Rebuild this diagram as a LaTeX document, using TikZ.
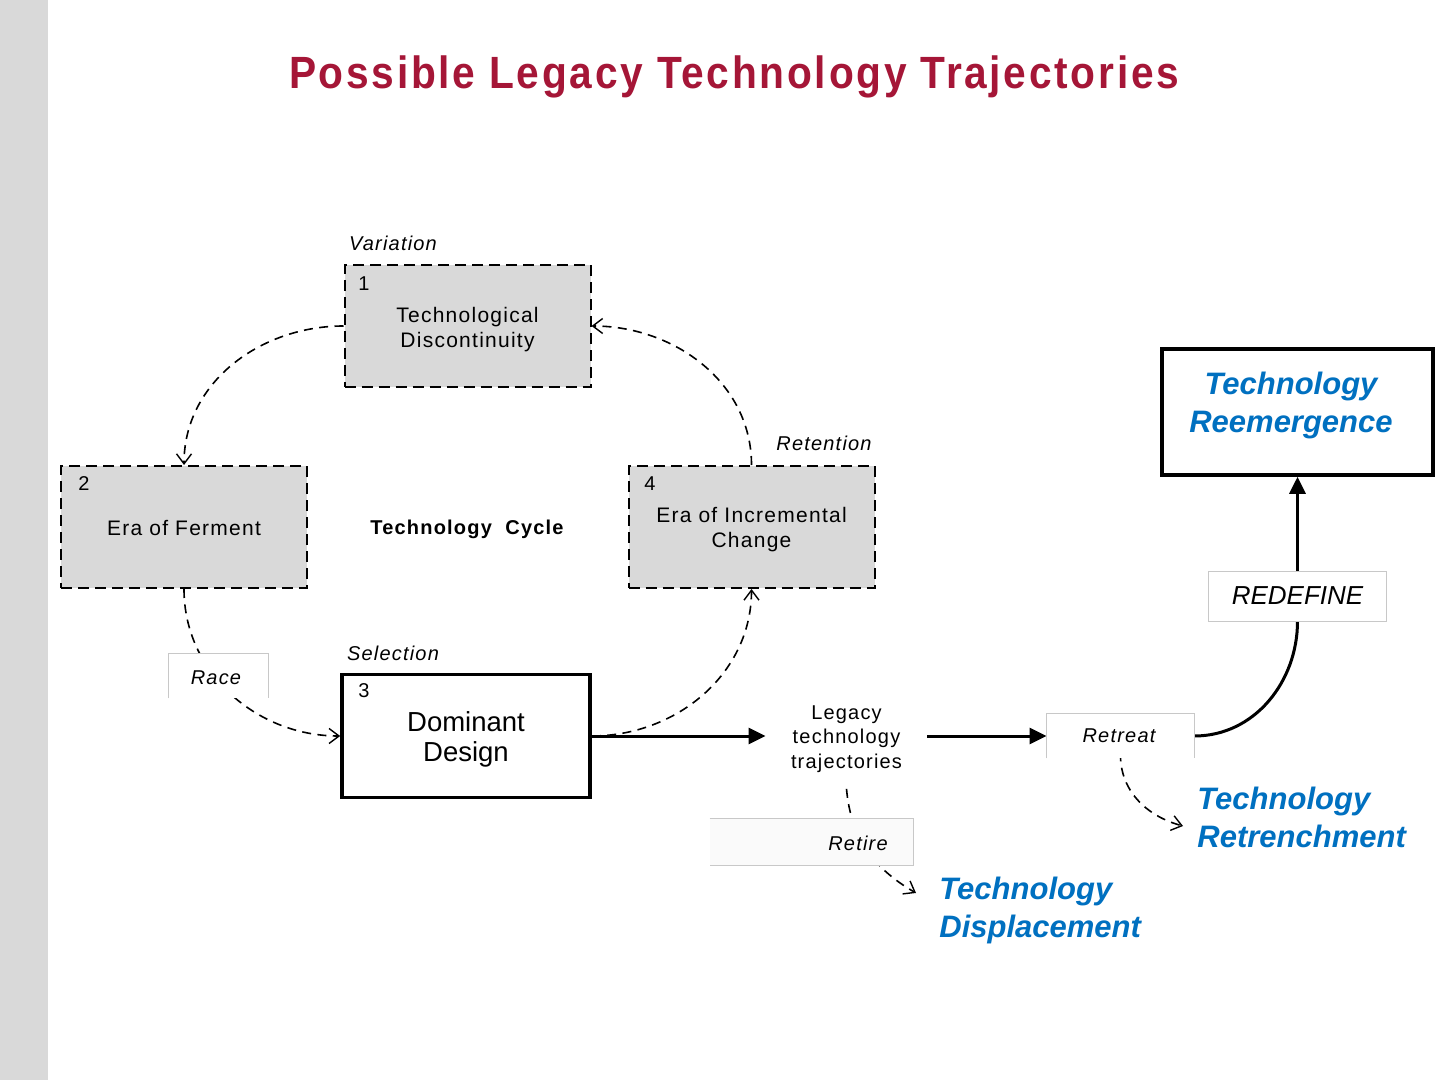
\documentclass[tikz,border=0pt]{standalone}
\usepackage{fontspec}
\setmainfont{Liberation Sans}
\newfontfamily\spf[LetterSpace=6]{Liberation Sans}
\newfontfamily\titlef[FakeStretch=0.9,LetterSpace=6]{Liberation Sans}
\usetikzlibrary{arrows.meta}
\definecolor{titlered}{RGB}{165,22,55}
\definecolor{boxgray}{RGB}{217,217,217}
\definecolor{bluetxt}{RGB}{0,112,192}
\definecolor{lblgray}{RGB}{200,200,200}
\newcommand{\twolines}[3][-2pt]{\raisebox{#1}[\height][\depth]{\begin{tabular}{@{}c@{}}#2\\#3\end{tabular}}}
\begin{document}
\begin{tikzpicture}[x=0.5pt,y=-0.5pt,
  stagebox/.style={draw=black,line width=1pt,dash pattern=on 5.5pt off 3pt,fill=boxgray,
    minimum width=123pt,minimum height=61pt,inner sep=0pt,align=center,
    font=\spf\fontsize{10.5}{12.5}\selectfont},
  domibox/.style={draw=black,line width=1.8pt,fill=white,minimum width=124pt,minimum height=61.5pt,
    inner sep=0pt,align=center,font=\fontsize{13.75}{15}\selectfont},
  numlbl/.style={font=\fontsize{10}{12}\selectfont,inner sep=0pt},
  phase/.style={font=\spf\itshape\fontsize{10}{12}\selectfont,inner sep=0pt},
  lblbox/.style={fill=white,inner sep=0pt},
  lbledge/.style={draw=lblgray,line width=0.5pt},
  lbltext/.style={font=\spf\itshape\fontsize{10}{12}\selectfont,inner sep=0pt},
  bluetext/.style={font=\bfseries\itshape\fontsize{15.5}{19}\selectfont,text=bluetxt,align=left,inner sep=0pt},
  cycleflow/.style={line width=0.8pt,dash pattern=on 4.5pt off 3.2pt,-{Straight Barb[length=5pt,width=7.5pt,line width=0.7pt]}},
  mainflow/.style={line width=1.5pt,-{Triangle[length=8.5pt,width=8pt]}},
]
% canvas
\useasboundingbox (0,0) rectangle (1440,1080);
\fill[white] (0,0) rectangle (1440,1080);
\fill[boxgray] (0,0) rectangle (48,1080);

% title
\node[anchor=base,text=titlered,font=\titlef\bfseries\fontsize{22.6}{26}\selectfont,inner sep=0pt] (title) at (734,89) {Possible Legacy Technology Trajectories};

% stage boxes
\node[stagebox] (b1) at (467.5,326) {\twolines{Technological}{Discontinuity}};
\node[stagebox] (b2) at (184,527) {\raisebox{-0.5pt}[\height][\depth]{Era of Ferment}};
\node[stagebox] (b4) at (751.5,527) {\twolines[-1.75pt]{Era of Incremental}{Change}};
\node[domibox] (b3) at (466,736) {\twolines[-2pt]{Dominant}{Design}};

\node[numlbl] (n1) at (364,284) {1};
\node[numlbl] (n2) at (84,484) {2};
\node[numlbl] (n3) at (364,691) {3};
\node[numlbl] (n4) at (650,484) {4};

\node[phase] (pv) at (393,243) {Variation};
\node[phase] (pr) at (824,443) {Retention};
\node[phase] (ps) at (393,653) {Selection};
\node[font=\spf\bfseries\fontsize{10}{12}\selectfont,inner sep=0pt] (cyc) at (467,529) {Technology\ \ Cycle};

% legacy node
\node[font=\spf\fontsize{10}{12.25}\selectfont,align=center,inner xsep=12.5pt,inner ysep=6pt] (leg) at (846.5,739) {Legacy\\technology\\trajectories};

% result boxes / texts
\node[draw=black,line width=1.8pt,fill=white,minimum width=135.5pt,minimum height=63pt] (reem) at (1297.5,412) {};
\node[bluetext,align=center] (reemt) at (1291,405) {Technology\\Reemergence};
\node[bluetext,anchor=west] (retr) at (1197,817) {Technology\\Retrenchment};
\node[bluetext,anchor=west] (disp) at (939,910) {Technology\\Displacement};
\coordinate (dispin) at (916,893);
\coordinate (retrin) at (1183,826);

% connectors in the cycle
\draw[cycleflow] (b1.west) to[out=180,in=90] (b2.north);
\draw[cycleflow] (b2.south) to[out=-90,in=180] (b3.west);
\draw[cycleflow] (b3.east) to[out=0,in=-90] (b4.south);
\draw[cycleflow] (b4.north) to[out=90,in=0] (b1.east);

% label boxes positions
\node[lblbox,minimum width=49.5pt,minimum height=22pt] (race) at (218.5,676) {};
\node[lblbox,fill=white!98!black,minimum width=101.5pt,minimum height=23pt] (retire) at (811.5,842) {};
\node[lblbox,minimum width=73.5pt,minimum height=22pt] (retreat) at (1120.5,736) {};
\node[lblbox,minimum width=88.5pt,minimum height=24.5pt] (redef) at (1297.5,596.5) {};

% trajectories
\draw[mainflow] (b3.east) -- (b3.east -| leg.west);
\draw[mainflow] (retreat.west -| leg.east) -- (retreat.west);
\draw[line width=1.5pt] (retreat.east) to[out=0,in=-90] (redef.south);
\draw[mainflow] (redef.north) -- (reem.south);
\draw[cycleflow] ([yshift=-2]leg.south) to[out=-85,in=150] (dispin);
\draw[cycleflow] ([yshift=3]retreat.south) to[out=-92,in=165] (retrin);

% label boxes drawn on top
\fill[white] (race.south west) rectangle (race.north east);
\draw[lbledge] (race.south west) |- (race.north east) -- (race.south east);
\fill[white!98!black] (retire.south west) rectangle (retire.north east);
\draw[lbledge] (retire.north west) -- (retire.north east) -- (retire.south east) -- (retire.south west);
\fill[white] (retreat.south west) rectangle (retreat.north east);
\draw[lbledge] (retreat.south west) |- (retreat.north east) -- (retreat.south east);
\fill[white] (redef.south west) rectangle (redef.north east);
\draw[lbledge] (redef.south west) rectangle (redef.north east);

\node[lbltext] (racet) at (216,678) {Race};
\node[lbltext] (retiret) at (858,843) {Retire};
\node[lbltext] (retreatt) at (1119,736) {Retreat};
\node[font=\itshape\fontsize{13}{15}\selectfont,inner sep=0pt] (redeft) at (1297.5,596) {REDEFINE};
\end{tikzpicture}
\end{document}
